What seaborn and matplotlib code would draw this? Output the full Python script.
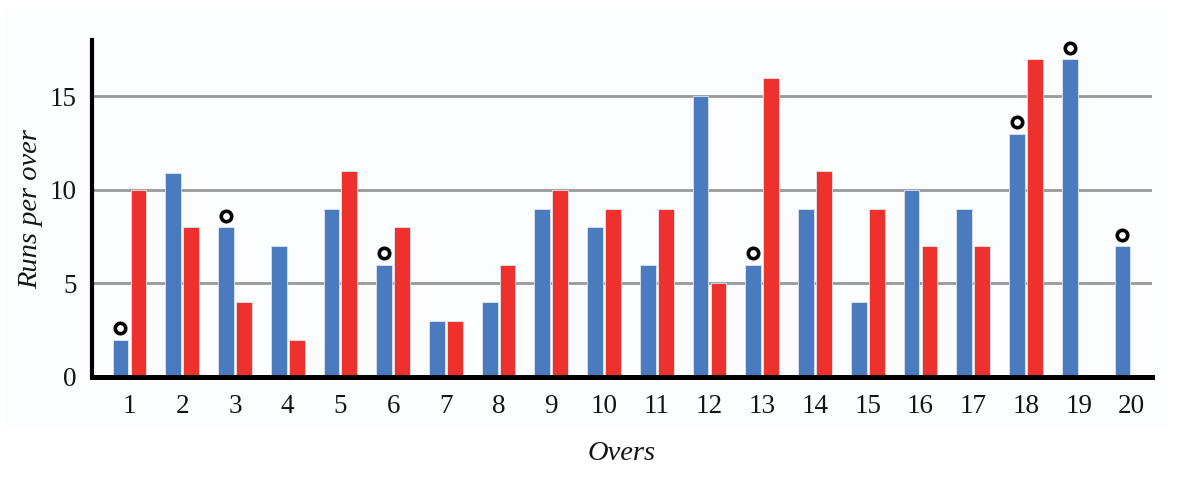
import numpy as np
import pandas as pd
import matplotlib
matplotlib.use("Agg")
import matplotlib.pyplot as plt
import seaborn as sns
from matplotlib.patches import Rectangle


# runs per over
overs = [str(i) for i in range(1, 21)]
team_a = [2, 10.9, 8, 7, 9, 6, 3, 4, 9, 8, 6, 15, 6, 9, 4, 10, 9, 13, 17, 7]
team_b = [10, 8, 4, 2, 11, 8, 3, 6, 10, 9, 9, 5, 16, 11, 9, 7, 7, 17, np.nan, np.nan]
# overs where team A lost a wicket
wicket_overs = ["1", "3", "6", "13", "18", "19", "20"]

BLUE = "#4a7bbf"
RED = "#ee312c"


def main():
    sns.set_theme(style="white")
    plt.rcParams["font.family"] = ["Liberation Serif", "DejaVu Serif"]

    df = pd.DataFrame({
        "over": overs * 2,
        "runs": team_a + team_b,
        "team": ["A"] * len(overs) + ["B"] * len(overs),
    })

    fig = plt.figure(figsize=(11.92, 4.78), dpi=100)
    fig.patch.set_facecolor("white")
    fig.patches.append(Rectangle((0.004, 0.105), 0.976, 0.875, transform=fig.transFigure,
                                 facecolor="#fcfdfe", edgecolor="none", zorder=-1))
    ax = fig.add_axes([0.0772, 0.2113, 0.8892, 0.7047])
    ax.set_facecolor("none")

    sns.barplot(data=df, x="over", y="runs", hue="team", order=overs,
                palette={"A": BLUE, "B": RED}, width=0.68, gap=0.12,
                saturation=1, legend=False, ax=ax, zorder=3,
                edgecolor="#dfe6f0", linewidth=0.6)

    # wicket markers above the blue bars
    blue_bars = ax.containers[0]
    for over, bar in zip(overs, blue_bars):
        if over in wicket_overs:
            ax.plot(bar.get_x() + bar.get_width() / 2, bar.get_height() + 0.6,
                    marker="o", ms=7.5, mfc="white", mec="black", mew=2.6, zorder=4,
                    clip_on=False)

    ax.set_xlim(-0.71, 19.39)
    ax.set_ylim(0, 18)
    ax.set_yticks([0, 5, 10, 15])
    for y in [5, 10, 15]:
        ax.axhline(y, color="#999999", lw=2, zorder=1)

    sns.despine(ax=ax)
    ax.spines["left"].set_linewidth(3)
    ax.spines["bottom"].set_linewidth(3.6)
    ax.spines["left"].set_color("black")
    ax.spines["bottom"].set_color("black")
    ax.spines["bottom"].set_zorder(5)

    ax.tick_params(axis="both", length=0, labelsize=19.5, colors="#151515")
    ax.tick_params(axis="x", pad=12)
    ax.tick_params(axis="y", pad=11)

    ax.set_xlabel("Overs", fontsize=20.5, style="italic", labelpad=16, color="#151515")
    ax.set_ylabel("Runs per over", fontsize=20.5, style="italic", labelpad=5, color="#151515")

    fig.savefig("out.png", dpi=100, facecolor=fig.get_facecolor())


if __name__ == "__main__":
    main()
